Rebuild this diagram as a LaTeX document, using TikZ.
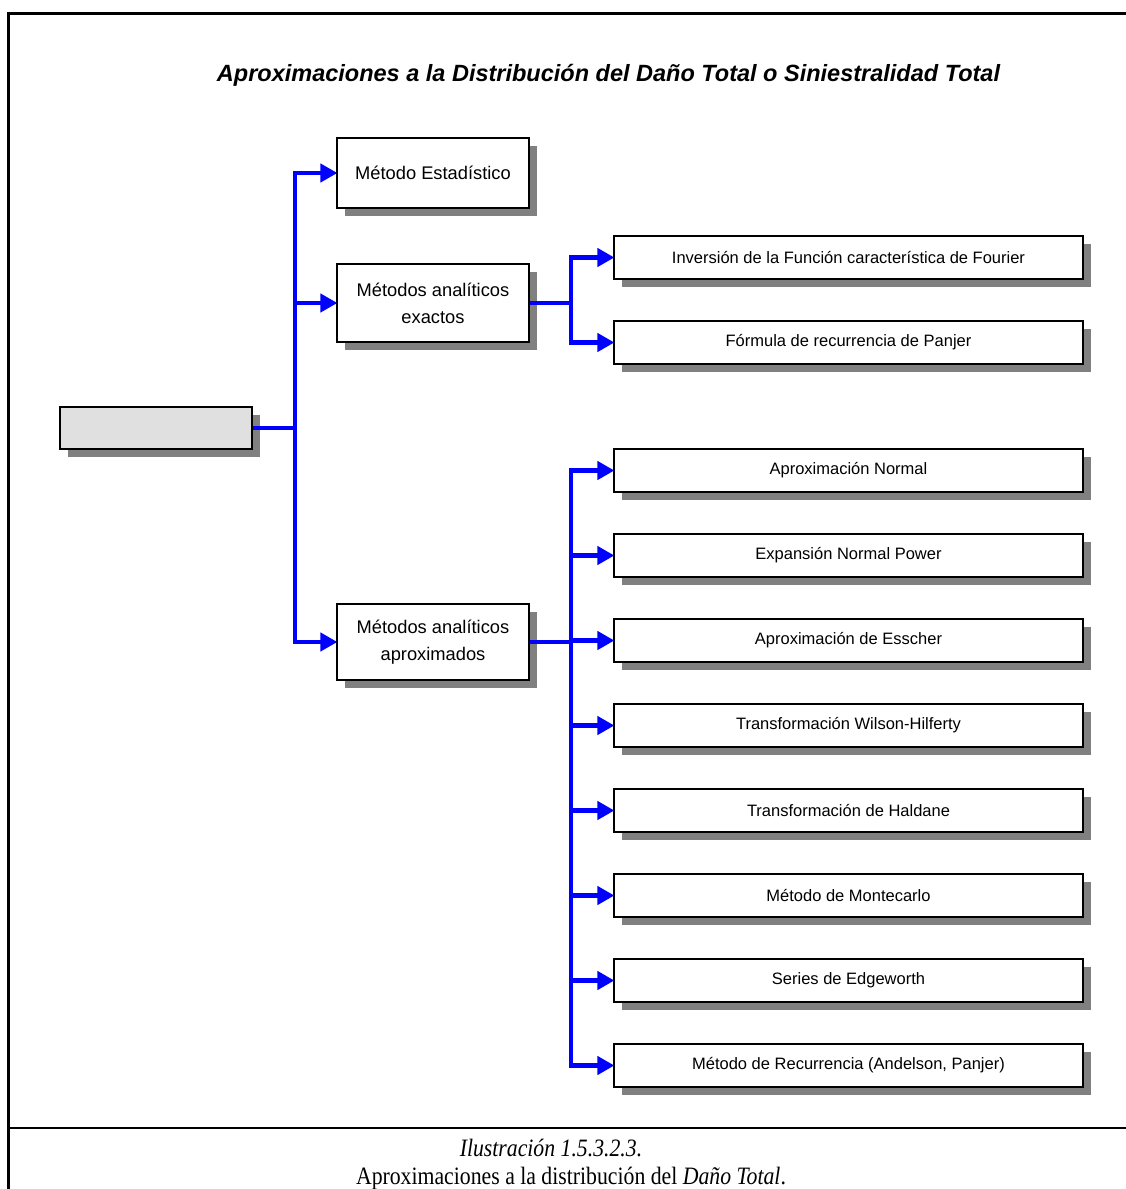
\documentclass[tikz,border=0pt]{standalone}
\usepackage{fontspec}
\setmainfont{Liberation Serif}
\setsansfont{Liberation Sans}
\usetikzlibrary{arrows.meta,shadows}
\definecolor{shadowgray}{RGB}{128,128,128}
\definecolor{rootfill}{RGB}{224,224,224}
\definecolor{linkblue}{RGB}{0,0,255}
\begin{document}
\begin{tikzpicture}[x=1pt,y=-1pt,
  box/.style={draw=black, line width=1.2pt, fill=white, rectangle, inner sep=0pt,
    align=center, font=\sffamily,
    general shadow={fill=shadowgray, shadow xshift=8pt, shadow yshift=-8pt}},
  mainbox/.style={box, minimum width=192pt, font=\sffamily\fontsize{18.3}{27}\selectfont},
  subbox/.style={box, minimum width=469pt, minimum height=43pt, font=\sffamily\fontsize{16.5}{19}\selectfont},
  link/.style={draw=linkblue, line width=4.5pt, line join=miter},
  arrowlink/.style={link, -{Triangle[length=17pt,width=18pt]}, shorten >=-1pt},
  caption/.style={font=\fontsize{25}{28}\selectfont, xscale=0.87, anchor=base}
]
\useasboundingbox (0,0) rectangle (1125,1189);

% outer frame and caption rule
\draw[line width=3pt] (1130,13) -- (8,13) -- (8,1195);
\draw[line width=2.5pt] (8,1128) -- (1130,1128);

% heading
\node[font=\sffamily\bfseries\itshape\fontsize{23.5}{27}\selectfont] (title) at (608.5,75)
  {Aproximaciones a la Distribución del Daño Total o Siniestralidad Total};

% root
\node[box, fill=rootfill, minimum width=192pt, minimum height=42pt] (root) at (156,428) {};

% first level
\node[mainbox, minimum height=70pt] (est) at (433,173) {Método Estadístico};
\node[mainbox, minimum height=78pt] (exa) at (433,303) {Métodos analíticos\\exactos};
\node[mainbox, minimum height=76pt] (apr) at (433,642) {Métodos analíticos\\aproximados};

% exact methods
\node[subbox] (fou) at (848.5,257.5) {Inversión de la Función característica de Fourier};
\node[subbox] (pan) at (848.5,342.5) {Fórmula de recurrencia de Panjer};

% approximate methods
\node[subbox] (nor) at (848.5,470.5) {Aproximación Normal};
\node[subbox] (npw) at (848.5,555.5) {Expansión Normal Power};
\node[subbox] (ess) at (848.5,640.5) {Aproximación de Esscher};
\node[subbox] (wil) at (848.5,725.5) {Transformación Wilson-Hilferty};
\node[subbox] (hal) at (848.5,810.5) {Transformación de Haldane};
\node[subbox] (mon) at (848.5,895.5) {Método de Montecarlo};
\node[subbox] (edg) at (848.5,980.5) {Series de Edgeworth};
\node[subbox] (rec) at (848.5,1065.5) {Método de Recurrencia (Andelson, Panjer)};

% branching points
\coordinate (trunk) at (295,428);
\coordinate (bexa) at (571,303);
\coordinate (bapr) at (571,642);

% connectors
\draw[link] (root.east) -- (trunk);
\foreach \t in {est,exa,apr} \draw[arrowlink] (trunk) |- (\t.west);
\draw[link] (exa.east) -- (bexa);
\foreach \t in {fou,pan} \draw[arrowlink] (bexa) |- (\t.west);
\draw[link] (apr.east) -- (bapr);
\foreach \t in {nor,npw,ess,wil,hal,mon,edg,rec} \draw[arrowlink] (bapr) |- (\t.west);

% caption
\node[caption, font=\itshape\fontsize{25}{28}\selectfont] (cap1) at (551,1156) {Ilustración 1.5.3.2.3.};
\node[caption] (cap2) at (571,1184)
  {Aproximaciones a la distribución del \textit{Daño Total}.};
\end{tikzpicture}
\end{document}
